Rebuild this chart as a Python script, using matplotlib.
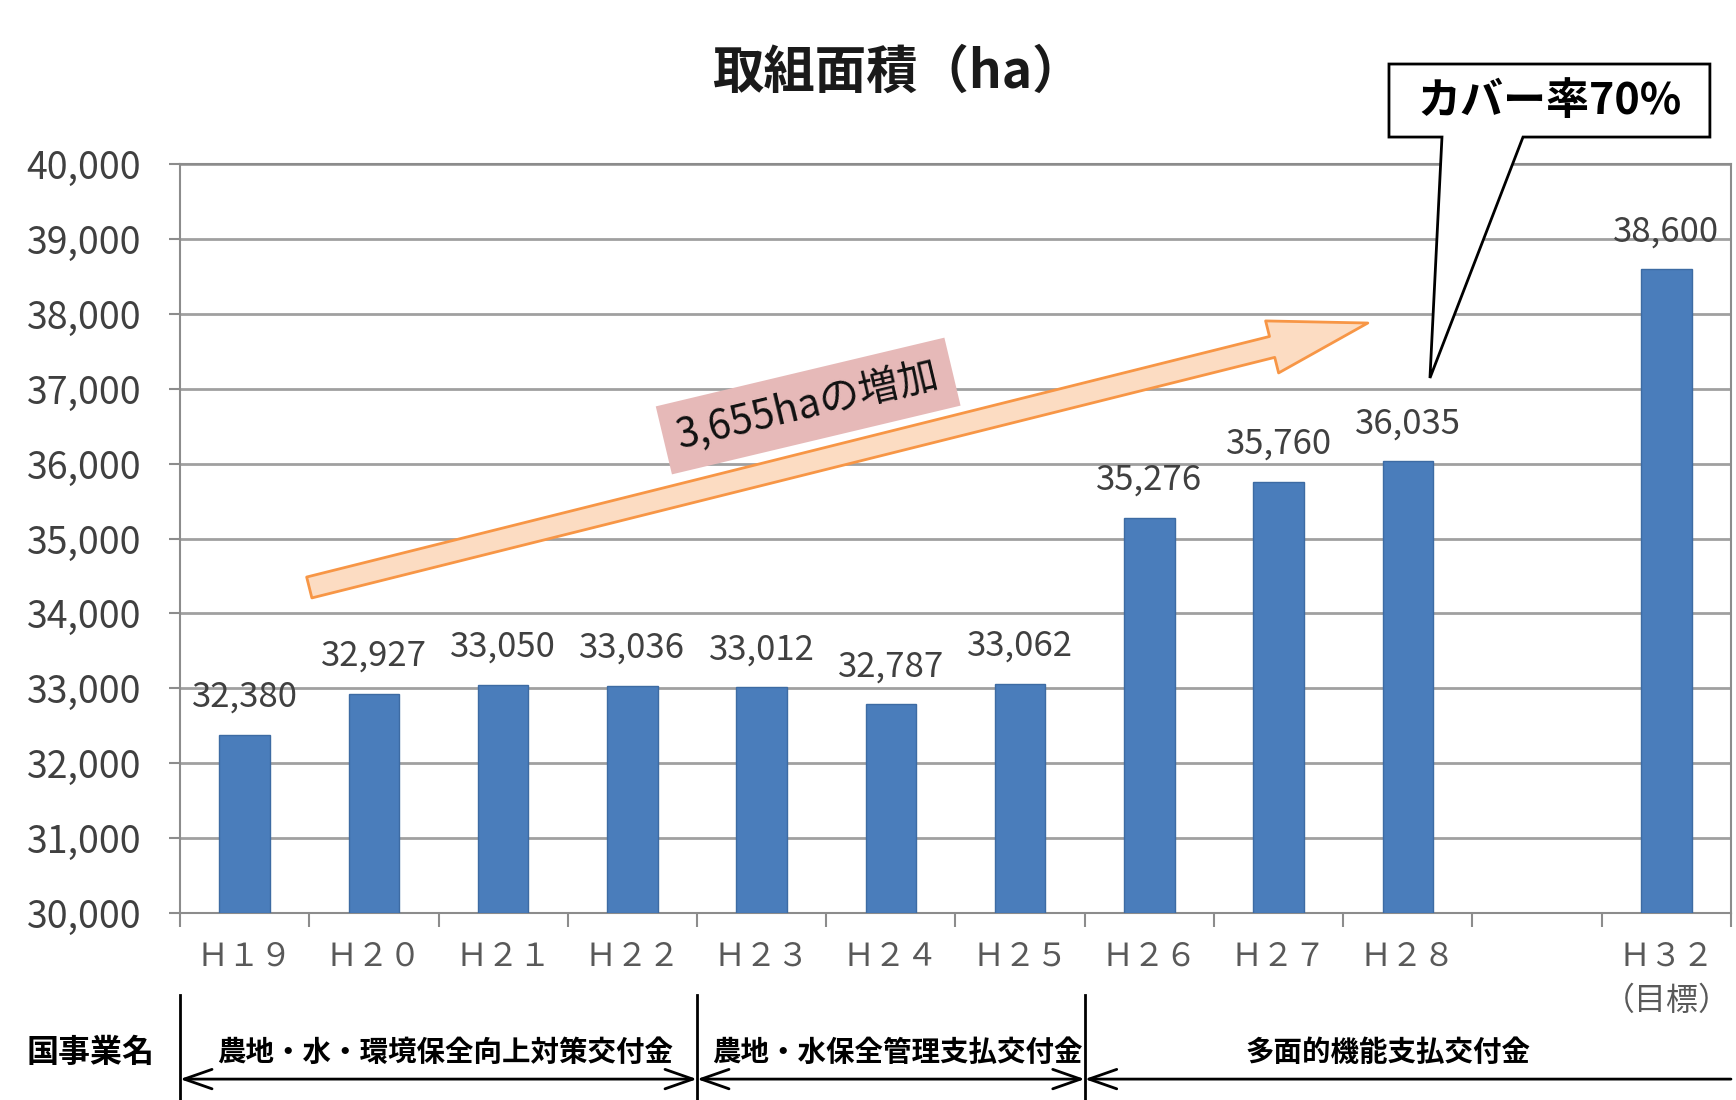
import numpy as np
import matplotlib
matplotlib.use("Agg")
import matplotlib.pyplot as plt
from matplotlib.patches import FancyArrowPatch, Polygon, ArrowStyle
from matplotlib.lines import Line2D
import matplotlib.transforms as mtransforms

plt.rcParams['font.family'] = ['Noto Sans CJK JP', 'DejaVu Sans']

# 年度ごとの取組面積 (ha)、H29-H31 は空き枠
slots = ['Ｈ１９', 'Ｈ２０', 'Ｈ２１', 'Ｈ２２', 'Ｈ２３', 'Ｈ２４', 'Ｈ２５',
         'Ｈ２６', 'Ｈ２７', 'Ｈ２８', '', 'Ｈ３２\n（目標）']
areas = [32380, 32927, 33050, 33036, 33012, 32787, 33062,
         35276, 35760, 36035, None, 38600]

y_ticks = list(range(30000, 40001, 1000))

# 国事業名の区切り (カテゴリ境界) と名称
program_bounds = [-0.5, 3.5, 6.5, 11.5]
program_names = ['農地・水・環境保全向上対策交付金', '農地・水保全管理支払交付金', '多面的機能支払交付金']
program_text_x = [1.55, 5.05, 8.85]

bar_color = '#4a7dbb'
grid_color = '#a0a0a0'

fig = plt.figure(figsize=(17.36, 11), dpi=100)
ax = fig.add_axes([0.1037, 0.1700, 0.8934, 0.6809])

xs = [i for i, v in enumerate(areas) if v is not None]
vals = [v for v in areas if v is not None]
ax.bar(xs, [v - 30000 for v in vals], bottom=30000, width=0.39,
       color=bar_color, edgecolor='#3d6ba3', linewidth=1, zorder=3)

for x, v in zip(xs, vals):
    ax.annotate(f'{v:,}', (x, v), xytext=(0, 20), textcoords='offset points',
                ha='center', va='baseline', fontsize=25, color='#404040', zorder=5)

ax.set_xlim(-0.5, 11.5)
ax.set_ylim(30000, 40000)
ax.set_yticks(y_ticks)
ax.set_yticklabels([f'{t:,}' for t in y_ticks])
ax.set_xticks(range(len(slots)))
ax.set_xticklabels(slots)
ax.set_xticks(np.arange(-0.5, 12, 1), minor=True)

ax.yaxis.grid(True, color=grid_color, linewidth=2, zorder=0)
ax.set_axisbelow(True)
for s in ax.spines.values():
    s.set_color('#8c8c8c')
    s.set_linewidth(1.5)

ax.tick_params(axis='y', length=8, width=1.5, color='#8c8c8c', pad=20,
               labelsize=27, labelcolor='#404040')
ax.tick_params(axis='x', which='major', length=0, pad=20,
               labelsize=23, labelcolor='#595959')
ax.tick_params(axis='x', which='minor', length=10, width=1.5, color='#8c8c8c')
for lbl in ax.get_xticklabels():
    lbl.set_linespacing(1.5)

# タイトル
fig.text(0.517, 0.934, '取組面積（ha）', ha='center', va='center',
         fontsize=37, fontweight='bold', color='#1a1a1a')

# 増加を示す矢印とラベル
trend = FancyArrowPatch((0.50, 34346), (8.69, 37877),
                        arrowstyle=ArrowStyle.Simple(head_length=7.1, head_width=3.86, tail_width=1.55),
                        mutation_scale=10, shrinkA=0, shrinkB=0,
                        facecolor='#fcdcc2', edgecolor='#f79646', linewidth=2, zorder=4)
ax.add_patch(trend)
ax.text(4.36, 36769, '3,655haの増加', rotation=13.4, rotation_mode='anchor',
        ha='center', va='center', fontsize=29, color='#111111', zorder=6,
        bbox=dict(boxstyle='square,pad=0.35', facecolor='#e6b9b8', edgecolor='none'))

# カバー率の吹き出し
box_l, box_r, box_t, box_b = 8.854, 11.337, 41335, 40360
callout = Polygon([(box_l, box_t), (box_r, box_t), (box_r, box_b), (9.891, box_b),
                   (9.171, 37143), (9.264, box_b), (box_l, box_b)],
                  closed=True, facecolor='white', edgecolor='black', linewidth=2,
                  clip_on=False, zorder=7)
ax.add_patch(callout)
ax.text((box_l + box_r) / 2, (box_t + box_b) / 2, 'カバー率70%', ha='center', va='center',
        fontsize=31, fontweight='bold', color='black', zorder=8, clip_on=False)

# 下段: 国事業名の区分
trans = mtransforms.blended_transform_factory(ax.transData, fig.transFigure)
for b in program_bounds[:-1]:
    fig.add_artist(Line2D([b, b], [0, 0.0955], transform=trans, color='black', linewidth=2))

arrow_y = 0.019
for i in range(len(program_names)):
    style = '<->' if i < len(program_names) - 1 else '<-'
    seg = FancyArrowPatch((program_bounds[i], arrow_y), (program_bounds[i + 1], arrow_y),
                          transform=trans, arrowstyle=f'{style},head_length=1.0,head_width=0.35',
                          mutation_scale=20, shrinkA=0, shrinkB=0, color='black', linewidth=2)
    fig.add_artist(seg)
    fig.text(program_text_x[i], 0.043, program_names[i], transform=trans,
             ha='center', va='center', fontsize=20.5, fontweight='bold', color='black')

fig.text(0.052, 0.043, '国事業名', ha='center', va='center',
         fontsize=23, fontweight='bold', color='black')

fig.savefig('out.png', dpi=100, facecolor='white')
